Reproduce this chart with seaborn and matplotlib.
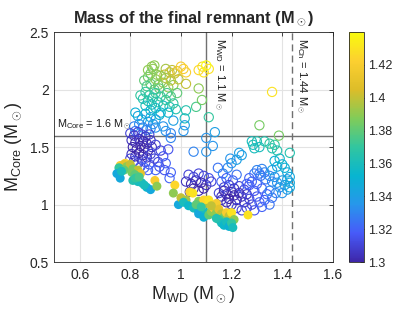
import matplotlib
matplotlib.use("Agg")
import matplotlib.pyplot as plt
import matplotlib.cm as cm
from matplotlib.colors import LinearSegmentedColormap, Normalize
import pandas as pd
import seaborn as sns

# ---------------- data (M_WD, M_Core, remnant mass) ----------------
# hollow markers
hollow_top = [
    (0.87, 2.17, 1.39), (0.885, 2.20, 1.39), (0.89, 2.18, 1.39), (0.895, 2.21, 1.39), (0.88, 2.14, 1.385),
    (0.94, 2.18, 1.395), (0.955, 2.15, 1.40), (0.965, 2.17, 1.40), (0.975, 2.14, 1.40), (0.985, 2.16, 1.41),
    (1.00, 2.20, 1.42), (1.02, 2.15, 1.42), (1.01, 2.18, 1.42),
    (1.07, 2.17, 1.425), (1.085, 2.20, 1.43), (1.09, 2.15, 1.43), (1.11, 2.18, 1.43), (1.10, 2.21, 1.44),
]
hollow_green = [
    (0.855, 2.08, 1.38), (0.87, 2.11, 1.385), (0.88, 2.05, 1.38), (0.90, 2.09, 1.39), (0.91, 2.04, 1.385),
    (0.92, 2.12, 1.39), (0.93, 2.06, 1.39), (0.94, 2.10, 1.395), (0.95, 2.02, 1.39), (0.96, 2.08, 1.40),
    (0.97, 2.04, 1.39), (0.99, 2.09, 1.40), (1.02, 2.05, 1.40), (1.07, 2.01, 1.39), (0.865, 2.03, 1.375),
    (0.895, 2.00, 1.38), (0.915, 2.01, 1.38), (0.935, 2.13, 1.40), (0.905, 2.13, 1.39),
]
hollow_teal = [
    (0.84, 1.95, 1.37), (0.85, 1.92, 1.365), (0.86, 1.98, 1.37), (0.87, 1.90, 1.365), (0.875, 1.95, 1.37),
    (0.885, 1.87, 1.36), (0.89, 1.93, 1.365), (0.90, 1.97, 1.37), (0.91, 1.89, 1.365), (0.92, 1.94, 1.37),
    (0.93, 1.86, 1.36), (0.94, 1.91, 1.37), (0.955, 1.85, 1.365), (0.97, 1.88, 1.37), (0.98, 1.83, 1.365),
    (0.86, 1.86, 1.36), (0.88, 1.82, 1.355), (0.90, 1.84, 1.36), (0.92, 1.80, 1.355), (0.945, 1.97, 1.375),
    (0.96, 1.94, 1.375), (0.985, 1.97, 1.38), (0.95, 1.80, 1.355), (1.02, 1.82, 1.365), (1.015, 1.75, 1.36),
    (1.06, 1.85, 1.375), (1.11, 1.76, 1.37), (1.083, 1.91, 1.385),
]
hollow_blue = [
    (0.82, 1.80, 1.35), (0.83, 1.77, 1.345), (0.845, 1.74, 1.34), (0.86, 1.79, 1.35), (0.87, 1.72, 1.34),
    (0.88, 1.76, 1.345), (0.89, 1.70, 1.335), (0.90, 1.74, 1.34), (0.915, 1.78, 1.35), (0.835, 1.70, 1.335),
    (0.85, 1.67, 1.33), (0.865, 1.65, 1.33), (0.88, 1.66, 1.33), (0.90, 1.67, 1.335), (0.93, 1.68, 1.335),
    (0.94, 1.64, 1.335), (0.82, 1.64, 1.325), (0.815, 1.68, 1.33), (0.97, 1.73, 1.34), (0.96, 1.62, 1.33),
    (1.015, 1.69, 1.34), (1.01, 1.64, 1.335), (0.96, 1.58, 1.33), (1.05, 1.46, 1.33), (1.10, 1.46, 1.335),
    (1.10, 1.58, 1.335), (1.126, 1.51, 1.335), (1.134, 1.63, 1.34),
]
hollow_core = [
    (0.80, 1.62, 1.31), (0.815, 1.60, 1.305), (0.83, 1.63, 1.31), (0.845, 1.61, 1.31), (0.86, 1.59, 1.305),
    (0.875, 1.61, 1.31), (0.805, 1.56, 1.305), (0.82, 1.54, 1.30), (0.835, 1.57, 1.305), (0.85, 1.55, 1.30),
    (0.865, 1.53, 1.30), (0.88, 1.56, 1.305), (0.81, 1.50, 1.30), (0.825, 1.48, 1.30), (0.84, 1.51, 1.30),
    (0.855, 1.49, 1.30), (0.87, 1.47, 1.30), (0.885, 1.50, 1.305), (0.805, 1.44, 1.305), (0.82, 1.42, 1.30),
    (0.835, 1.45, 1.30), (0.85, 1.43, 1.30), (0.865, 1.41, 1.305), (0.88, 1.44, 1.31), (0.815, 1.38, 1.31),
    (0.83, 1.36, 1.31), (0.845, 1.39, 1.305), (0.86, 1.37, 1.31), (0.875, 1.35, 1.315), (0.80, 1.40, 1.31),
    (0.84, 1.33, 1.315), (0.855, 1.32, 1.32), (0.87, 1.30, 1.32),
    (0.90, 1.52, 1.31), (0.92, 1.47, 1.31), (0.95, 1.48, 1.315), (0.895, 1.40, 1.31), (0.91, 1.37, 1.31),
    (0.93, 1.42, 1.315), (0.915, 1.33, 1.315), (0.94, 1.36, 1.32), (0.90, 1.30, 1.32), (0.96, 1.28, 1.32),
    (0.955, 1.23, 1.32), (0.935, 1.30, 1.315),
]
hollow_mid = [
    (1.03, 1.26, 1.31), (1.05, 1.24, 1.31), (1.07, 1.27, 1.31), (1.09, 1.25, 1.31), (1.11, 1.23, 1.315),
    (1.02, 1.20, 1.305), (1.04, 1.18, 1.30), (1.06, 1.21, 1.305), (1.08, 1.19, 1.30), (1.10, 1.17, 1.305),
    (1.05, 1.14, 1.30), (1.07, 1.12, 1.30), (1.09, 1.14, 1.30), (1.12, 1.20, 1.31), (1.035, 1.11, 1.305),
    (1.146, 1.32, 1.325), (1.166, 1.27, 1.33), (1.185, 1.32, 1.33), (1.20, 1.36, 1.335), (1.195, 1.40, 1.335),
    (1.22, 1.39, 1.34), (1.23, 1.45, 1.34), (1.24, 1.43, 1.34), (1.16, 1.20, 1.32), (1.18, 1.23, 1.32),
    (1.205, 1.21, 1.32), (1.22, 1.26, 1.325),
]
hollow_band = [
    (1.15, 1.10, 1.31), (1.16, 1.07, 1.305), (1.17, 1.12, 1.30), (1.18, 1.09, 1.30), (1.19, 1.05, 1.30),
    (1.20, 1.11, 1.30), (1.21, 1.08, 1.30), (1.22, 1.04, 1.30), (1.23, 1.10, 1.30), (1.24, 1.07, 1.305),
    (1.25, 1.02, 1.305), (1.26, 1.09, 1.305), (1.27, 1.05, 1.31), (1.28, 1.00, 1.31), (1.17, 1.15, 1.31),
    (1.19, 1.17, 1.31), (1.21, 1.14, 1.305), (1.23, 1.16, 1.31), (1.25, 1.13, 1.31), (1.27, 1.17, 1.315),
    (1.29, 1.12, 1.315), (1.30, 1.07, 1.315), (1.31, 1.02, 1.32), (1.20, 1.00, 1.305), (1.22, 0.97, 1.31),
    (1.24, 0.95, 1.31), (1.26, 0.97, 1.31), (1.18, 1.02, 1.30), (1.16, 1.04, 1.305), (1.29, 0.95, 1.315),
    (1.32, 0.98, 1.32), (1.33, 1.04, 1.32), (1.35, 1.00, 1.325), (1.34, 1.09, 1.32), (1.36, 1.06, 1.325),
    (1.30, 1.18, 1.32), (1.32, 1.14, 1.32),
]
hollow_right = [
    (1.27, 1.23, 1.32), (1.29, 1.27, 1.325), (1.30, 1.30, 1.33), (1.31, 1.27, 1.325), (1.32, 1.31, 1.33),
    (1.315, 1.25, 1.325), (1.33, 1.28, 1.33), (1.335, 1.22, 1.325), (1.35, 1.25, 1.33), (1.36, 1.20, 1.33),
    (1.37, 1.24, 1.335), (1.38, 1.19, 1.335), (1.39, 1.15, 1.335), (1.40, 1.21, 1.34), (1.41, 1.17, 1.34),
    (1.42, 1.13, 1.34), (1.43, 1.19, 1.345), (1.43, 1.24, 1.345), (1.42, 1.28, 1.345), (1.41, 1.32, 1.35),
    (1.40, 1.35, 1.35), (1.38, 1.33, 1.345), (1.37, 1.38, 1.35), (1.39, 1.40, 1.355), (1.36, 1.30, 1.34),
    (1.35, 1.12, 1.33), (1.375, 1.10, 1.33), (1.40, 1.10, 1.335), (1.42, 1.22, 1.34), (1.43, 1.15, 1.345),
    (1.28, 1.20, 1.32), (1.26, 1.18, 1.32),
    (1.28, 1.55, 1.36), (1.285, 1.52, 1.36), (1.30, 1.55, 1.365), (1.31, 1.50, 1.36), (1.33, 1.55, 1.365),
    (1.35, 1.53, 1.37), (1.36, 1.49, 1.365), (1.37, 1.52, 1.37), (1.38, 1.47, 1.365), (1.29, 1.49, 1.36),
    (1.43, 1.45, 1.365), (1.31, 1.69, 1.385), (1.387, 1.60, 1.385), (1.36, 1.98, 1.43),
]
# filled markers
filled_left = [
    (0.76, 1.34, 1.42), (0.78, 1.36, 1.425), (0.775, 1.35, 1.41), (0.785, 1.33, 1.39), (0.80, 1.35, 1.40),
    (0.81, 1.31, 1.385), (0.83, 1.30, 1.40), (0.84, 1.27, 1.41), (0.755, 1.32, 1.37), (0.775, 1.30, 1.38),
    (0.747, 1.27, 1.345), (0.76, 1.23, 1.345), (0.765, 1.29, 1.36), (0.806, 1.28, 1.385), (0.818, 1.26, 1.38),
    (0.81, 1.21, 1.365), (0.83, 1.20, 1.36), (0.845, 1.19, 1.36), (0.82, 1.23, 1.37), (0.835, 1.24, 1.375),
    (0.865, 1.15, 1.355), (0.88, 1.13, 1.345), (0.855, 1.17, 1.36), (0.897, 1.21, 1.42), (0.905, 1.16, 1.39),
    (0.976, 1.17, 1.425), (0.97, 1.10, 1.39),
]
filled_mid = [
    (0.99, 1.00, 1.345), (1.00, 1.06, 1.40), (1.02, 1.04, 1.395), (1.035, 1.11, 1.425), (1.047, 1.10, 1.43),
    (1.01, 1.02, 1.36), (1.03, 0.99, 1.355), (1.05, 0.97, 1.36), (1.07, 0.94, 1.355), (1.07, 0.92, 1.345),
    (1.10, 0.93, 1.36), (1.07, 1.03, 1.39), (1.10, 1.01, 1.395), (1.09, 1.04, 1.425), (1.11, 1.04, 1.43),
    (1.14, 1.01, 1.42), (1.06, 1.00, 1.38), (1.08, 0.98, 1.37), (1.09, 0.89, 1.35), (1.11, 0.91, 1.38),
    (1.12, 0.94, 1.39), (1.13, 0.97, 1.42), (1.14, 0.93, 1.39), (1.15, 0.96, 1.41), (1.16, 0.92, 1.40),
    (1.17, 0.89, 1.385), (1.18, 0.93, 1.42), (1.19, 0.90, 1.40), (1.20, 0.93, 1.43), (1.21, 0.87, 1.39),
    (1.15, 0.87, 1.37), (1.16, 0.84, 1.36), (1.17, 0.82, 1.355), (1.18, 0.85, 1.36), (1.19, 0.81, 1.35),
    (1.20, 0.84, 1.37), (1.205, 0.80, 1.36), (1.14, 0.88, 1.365), (1.265, 0.91, 1.43), (1.12, 0.99, 1.40),
]

colorbar_ticks = [1.3, 1.32, 1.34, 1.36, 1.38, 1.4, 1.42]
colorbar_labels = ["1.3", "1.32", "1.34", "1.36", "1.38", "1.4", "1.42"]
x_ticks = [0.6, 0.8, 1.0, 1.2, 1.4, 1.6]
x_labels = ["0.6", "0.8", "1", "1.2", "1.4", "1.6"]
y_ticks = [0.5, 1.0, 1.5, 2.0, 2.5]
y_labels = ["0.5", "1", "1.5", "2", "2.5"]
m_wd_limit = 1.1
m_core_limit = 1.6
m_ch = 1.44

# ---------------- styling ----------------
sns.set_theme(style="white")
plt.rcParams['font.family'] = ['Liberation Sans', 'DejaVu Sans']
plt.rcParams['mathtext.fontset'] = 'custom'
plt.rcParams['mathtext.rm'] = 'Liberation Sans'
plt.rcParams['mathtext.it'] = 'Liberation Sans:italic'
plt.rcParams['mathtext.bf'] = 'Liberation Sans:bold'

parula = LinearSegmentedColormap.from_list("parula", [
    (0.000, (0.2422, 0.1504, 0.6603)),
    (0.125, (0.2780, 0.3556, 0.9777)),
    (0.250, (0.1540, 0.5902, 0.9218)),
    (0.375, (0.0297, 0.7082, 0.8163)),
    (0.500, (0.1938, 0.7758, 0.6251)),
    (0.625, (0.5044, 0.7993, 0.3480)),
    (0.750, (0.8634, 0.7406, 0.1596)),
    (0.875, (0.9892, 0.8136, 0.1885)),
    (1.000, (0.9763, 0.9831, 0.0538)),
])
vmin, vmax = 1.3, 1.44

cols = ["mwd", "mcore", "mass"]
df_hollow = pd.DataFrame(hollow_top + hollow_green + hollow_teal + hollow_blue + hollow_core
                         + hollow_mid + hollow_band + hollow_right, columns=cols)
df_filled = pd.DataFrame(filled_left + filled_mid, columns=cols)

fig = plt.figure(figsize=(4.15, 3.12), dpi=100)
ax = fig.add_axes([0.131, 0.160, 0.671, 0.737])
cax = fig.add_axes([0.841, 0.160, 0.036, 0.737])

ax.grid(True, color="#e3e3e3", linewidth=0.8, zorder=0)
ax.set_axisbelow(True)

sns.scatterplot(data=df_hollow, x="mwd", y="mcore", hue="mass", palette=parula,
                hue_norm=(vmin, vmax), s=44, linewidth=0, legend=False, ax=ax, zorder=3)
coll = ax.collections[-1]
fc = coll.get_facecolors()
coll.set_facecolors("none")
coll.set_edgecolors(fc)
coll.set_linewidths(0.8)

sns.scatterplot(data=df_filled, x="mwd", y="mcore", hue="mass", palette=parula,
                hue_norm=(vmin, vmax), s=42, linewidth=0, legend=False, ax=ax, zorder=4)

ax.axvline(m_wd_limit, color="#707070", linewidth=1.0, zorder=2)
ax.axhline(m_core_limit, color="#707070", linewidth=1.0, zorder=2)
ax.axvline(m_ch, color="#707070", linewidth=1.0, linestyle=(0, (5, 3)), zorder=2)

ax.text(0.51, 1.635, r"M$_{\rm Core}$ = 1.6 M$_\odot$", fontsize=7.8, ha="left", va="bottom", color="#1a1a1a")
ax.text(1.124, 2.45, r"M$_{\rm WD}$ = 1.1 M$_\odot$", fontsize=8, rotation=-90, ha="left", va="top", color="#1a1a1a")
ax.text(1.446, 2.45, r"M$_{\rm Ch}$ = 1.44 M$_\odot$", fontsize=8, rotation=-90, ha="left", va="top", color="#1a1a1a")

ax.set_xlim(0.5, 1.6)
ax.set_ylim(0.5, 2.5)
ax.set_xticks(x_ticks)
ax.set_xticklabels(x_labels)
ax.set_yticks(y_ticks)
ax.set_yticklabels(y_labels)
ax.tick_params(direction="in", length=3, width=0.6, colors="#262626", labelsize=10,
               top=True, right=True, labelcolor="#262626", pad=4)
for sp in ax.spines.values():
    sp.set_color("#262626")
    sp.set_linewidth(0.6)

ax.set_xlabel(r"M$_{\rm WD}$ (M$_\odot$)", fontsize=13, color="#262626", labelpad=2)
ax.set_ylabel(r"M$_{\rm Core}$ (M$_\odot$)", fontsize=13, color="#262626", labelpad=4)
ax.set_title(r"Mass of the final remnant (M$_\odot$)", fontsize=11.8, fontweight="bold", pad=7)

sm = cm.ScalarMappable(norm=Normalize(vmin, vmax), cmap=parula)
cb = fig.colorbar(sm, cax=cax, ticks=colorbar_ticks)
cb.ax.set_yticklabels(colorbar_labels)
cb.ax.tick_params(direction="in", length=3, width=0.6, labelsize=9, colors="#262626", pad=3)
cb.outline.set_edgecolor("#262626")
cb.outline.set_linewidth(0.6)

fig.savefig("out.png", dpi=100)
